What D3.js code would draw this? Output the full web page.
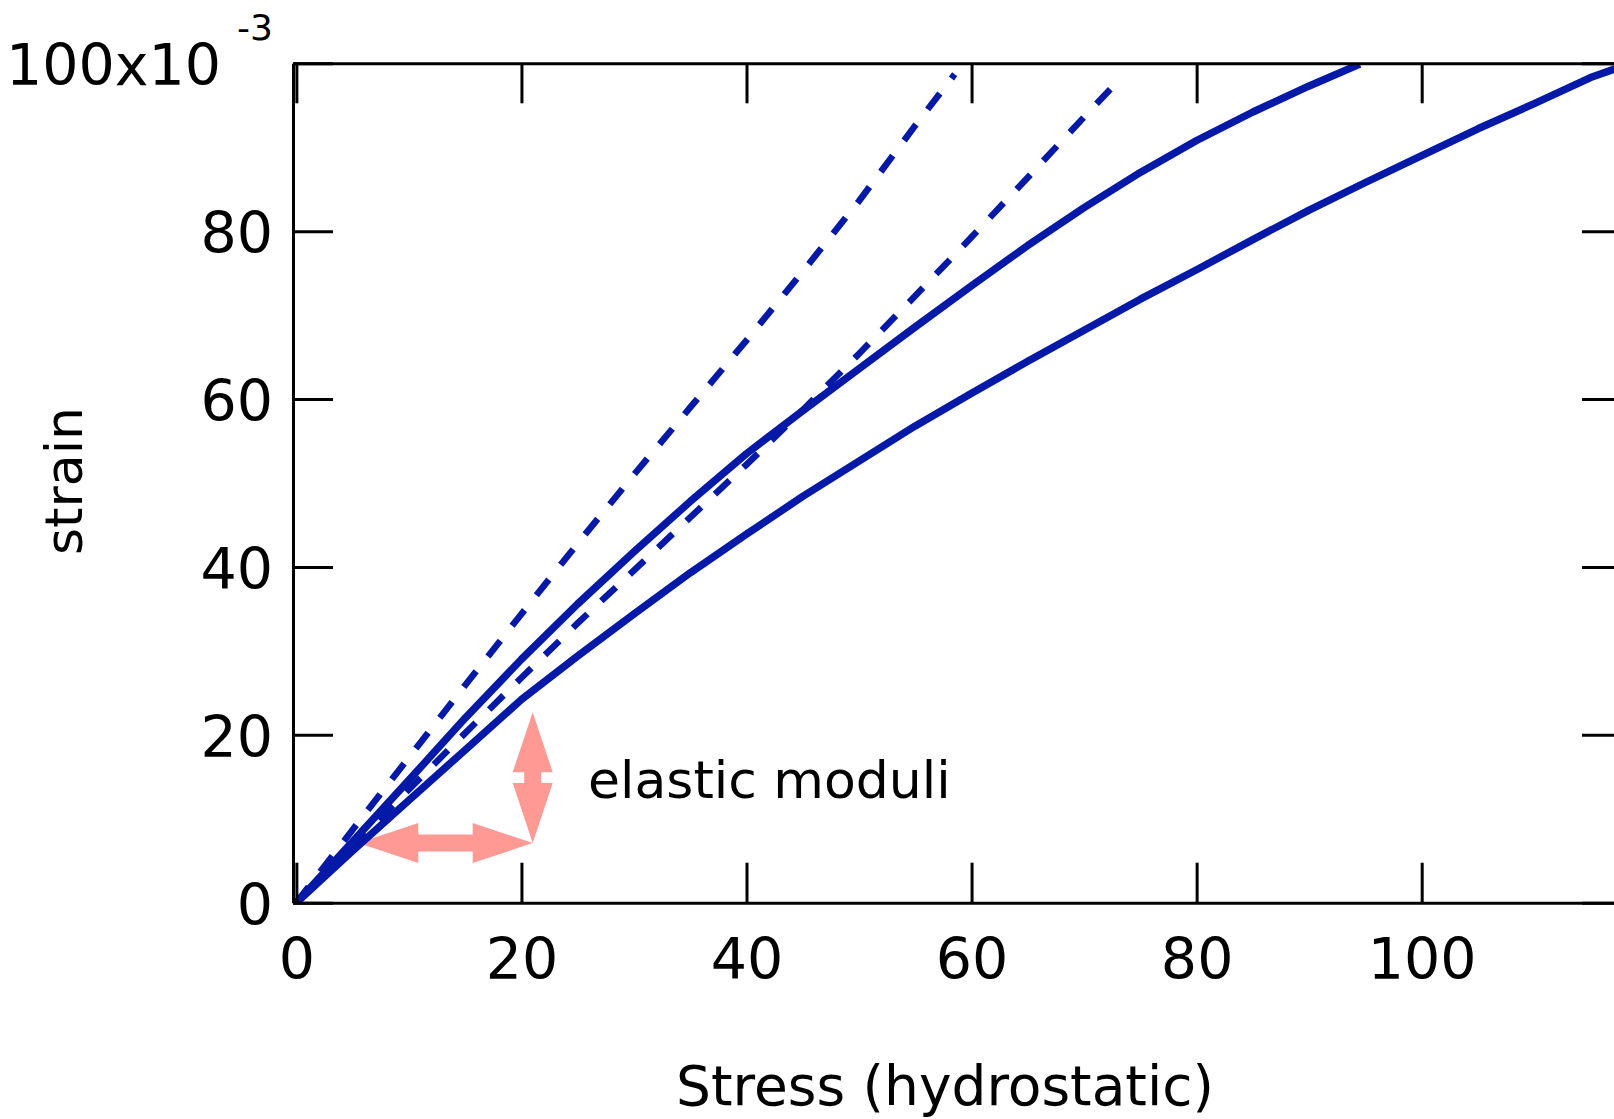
<!DOCTYPE html>
<html>
<head>
<meta charset="utf-8">
<script src="https://cdn.jsdelivr.net/npm/d3@7"></script>
<style>
  body { margin: 0; background: #fff; }
  svg { display: block; }
  text { font-family: "DejaVu Sans", sans-serif; fill: #000; }
</style>
</head>
<body>
<svg width="1614" height="1119"></svg>
<script>
// stress (hydrostatic) vs strain (x10^-3)
const solidSteep = [
  [0, 0], [5, 7.3], [10, 14.6], [15, 22.0], [20, 29.0], [25, 35.6], [30, 41.8],
  [35, 47.8], [40, 53.5], [45, 58.6], [50, 63.6], [55, 68.6], [60, 73.5],
  [65, 78.3], [70, 82.8], [75, 87.0], [80, 90.8], [85, 94.2], [90, 97.3], [94.5, 99.9]
];
const solidShallow = [
  [0, 0], [5, 6.2], [10, 12.2], [15, 18.2], [20, 24.2], [25, 29.4], [30, 34.4],
  [35, 39.3], [40, 43.9], [45, 48.4], [50, 52.6], [55, 56.8], [60, 60.7],
  [65, 64.5], [70, 68.2], [75, 71.9], [80, 75.4], [85, 79.0], [90, 82.5],
  [95, 85.8], [100, 89.0], [105, 92.2], [110, 95.2], [115, 98.3], [117.5, 99.5]
];
const dashedSteep = [
  [0, 0], [5, 8.7], [10, 17.3], [15, 25.9], [20, 34.4], [25, 42.8], [30, 51.0],
  [35, 59.0], [40, 67.0], [45, 75.2], [50, 83.6], [55, 92.6], [58.5, 98.7]
];
const dashedShallow = [
  [0, 0], [5, 6.8], [10, 13.5], [15, 20.2], [20, 26.8], [25, 33.3], [30, 39.6],
  [35, 45.9], [40, 52.2], [45, 58.7], [50, 65.4], [55, 72.3], [60, 79.3],
  [65, 86.4], [70, 93.6], [73.3, 98.3]
];
// the two "elastic moduli" arrows: [x1, y1, x2, y2] in data units
const moduliArrows = [
  [5.5, 7.1, 21.0, 7.1],
  [21.0, 7.1, 21.0, 22.7]
];
const xTicks = [0, 20, 40, 60, 80, 100];
const yTicks = [0, 20, 40, 60, 80, 100];

const svg = d3.select("svg");
const plotLeft = 293, plotRight = 1622, plotTop = 63.3, plotBottom = 902.7;

const x = d3.scaleLinear().domain([-0.3, 117.8]).range([plotLeft, plotRight]);
const y = d3.scaleLinear().domain([0, 100]).range([plotBottom, plotTop]);

const blue = "#0519a8";
const salmon = "#ff9993";

svg.append("clipPath").attr("id", "plot")
  .append("rect")
  .attr("x", plotLeft).attr("y", plotTop)
  .attr("width", plotRight - plotLeft).attr("height", plotBottom - plotTop);

// arrows (drawn under the data)
function arrowPoly(x1, y1, x2, y2) {
  const dx = x2 - x1, dy = y2 - y1;
  const len = Math.hypot(dx, dy);
  const ux = dx / len, uy = dy / len, nx = -uy, ny = ux;
  const head = 60, hw = 20, sw = 8.5;
  const p = (a, b) => [x1 + ux * a + nx * b, y1 + uy * a + ny * b];
  return [
    p(0, 0), p(head, hw), p(head, sw), p(len - head, sw), p(len - head, hw),
    p(len, 0), p(len - head, -hw), p(len - head, -sw), p(head, -sw), p(head, -hw)
  ];
}
svg.append("g")
  .selectAll("polygon")
  .data(moduliArrows)
  .join("polygon")
  .attr("points", d => arrowPoly(x(d[0]), y(d[1]), x(d[2]), y(d[3])).map(p => p.join(",")).join(" "))
  .attr("fill", salmon);

const line = d3.line().x(d => x(d[0])).y(d => y(d[1]));

const series = [
  { data: dashedSteep, dash: "20,19", width: 6.5 },
  { data: dashedShallow, dash: "20,19", width: 6.5 },
  { data: solidSteep, dash: null, width: 7.5 },
  { data: solidShallow, dash: null, width: 7.5 }
];

svg.append("g").attr("clip-path", "url(#plot)")
  .selectAll("path")
  .data(series)
  .join("path")
  .attr("d", d => line(d.data))
  .attr("fill", "none")
  .attr("stroke", blue)
  .attr("stroke-width", d => d.width)
  .attr("stroke-linejoin", "round")
  .attr("stroke-dasharray", d => d.dash);

// axes: ticks point inward on all four sides
function styleAxis(g) {
  g.selectAll("path, line").attr("stroke", "#000").attr("stroke-width", 3);
  g.selectAll("text").attr("font-size", 57).attr("font-family", "DejaVu Sans").attr("fill", "#000");
}

svg.append("g")
  .attr("transform", `translate(0,${plotBottom})`)
  .call(d3.axisBottom(x).tickValues(xTicks).tickSize(-40).tickSizeOuter(0).tickPadding(36))
  .call(styleAxis);

svg.append("g")
  .attr("transform", `translate(0,${plotTop})`)
  .call(d3.axisTop(x).tickValues(xTicks).tickSize(-40).tickSizeOuter(0).tickFormat(""))
  .call(styleAxis);

const yAxis = svg.append("g")
  .attr("transform", `translate(${plotLeft},0)`)
  .call(d3.axisLeft(y).tickValues(yTicks).tickSize(-40).tickSizeOuter(0).tickPadding(20)
    .tickFormat(d => d === 100 ? "100x10" : d))
  .call(styleAxis);
yAxis.selectAll(".tick text").attr("dy", "0.38em");
yAxis.selectAll(".tick text").filter(d => d === 100)
  .append("tspan")
  .attr("dx", 16).attr("dy", -45).attr("font-size", 36)
  .text("-3");

svg.append("g")
  .attr("transform", `translate(${plotRight},0)`)
  .call(d3.axisRight(y).tickValues(yTicks).tickSize(-40).tickSizeOuter(0).tickFormat(""))
  .call(styleAxis);

// labels
svg.append("text")
  .attr("x", 945).attr("y", 1105)
  .attr("text-anchor", "middle")
  .attr("font-size", 55)
  .text("Stress (hydrostatic)");

svg.append("text")
  .attr("transform", "translate(82,481) rotate(-90)")
  .attr("text-anchor", "middle")
  .attr("font-size", 52)
  .text("strain");

svg.append("text")
  .attr("x", 588).attr("y", 798)
  .attr("font-size", 52)
  .text("elastic moduli");
</script>
</body>
</html>
